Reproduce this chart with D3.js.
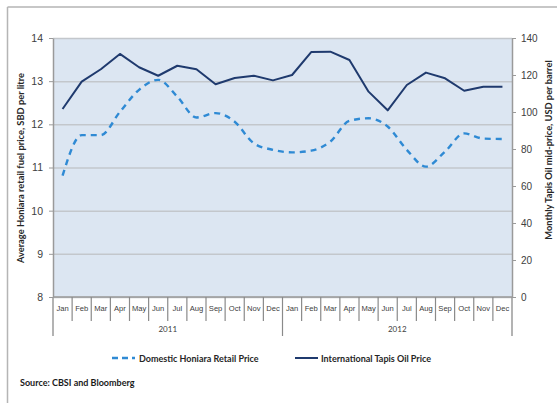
<!DOCTYPE html>
<html>
<head>
<meta charset="utf-8">
<script src="https://cdn.jsdelivr.net/npm/d3@7"></script>
<style>
  html, body { margin: 0; padding: 0; background: #fff; }
  svg { display: block; font-family: Lato, "Open Sans", sans-serif; }
</style>
</head>
<body>
<svg id="chart" width="557" height="403"></svg>
<script>
// Monthly series, Jan 2011 – Dec 2012
const months = ["Jan","Feb","Mar","Apr","May","Jun","Jul","Aug","Sep","Oct","Nov","Dec"];
const years = ["2011", "2012"];
// Average Honiara retail fuel price, SBD per litre (left axis)
const domesticPrice = [10.81, 11.75, 11.75, 12.29, 12.80, 13.03, 12.64, 12.16, 12.26, 12.06, 11.56, 11.41,
                       11.35, 11.39, 11.60, 12.08, 12.14, 11.95, 11.41, 11.02, 11.37, 11.79, 11.67, 11.66];
// International Tapis oil mid-price, USD per barrel (right axis)
const tapisPrice = [101.6, 116.4, 123.1, 131.4, 124.2, 119.6, 125.0, 123.1, 115.0, 118.4, 119.6, 117.1,
                    120.0, 132.4, 132.6, 128.1, 111.0, 100.9, 114.6, 121.3, 118.2, 111.5, 113.7, 113.7];
const leftTicks = [8, 9, 10, 11, 12, 13, 14];
const rightTicks = [0, 20, 40, 60, 80, 100, 120, 140];
const seriesNames = ["Domestic Honiara Retail Price", "International Tapis Oil Price"];
const leftTitle = "Average Honiara retail fuel price, SBD per litre";
const rightTitle = "Monthly Tapis Oil mid-price, USD per barrel";
const sourceNote = "Source: CBSI and Bloomberg";

const svg = d3.select("#chart");
const plot = { left: 53, right: 512, top: 38, bottom: 297 };
const gridColor = "#c3c7cc";
const axisColor = "#9a9a9a";
const textColor = "#404040";

const periods = d3.range(years.length * months.length);
const x = d3.scaleBand().domain(periods).range([plot.left, plot.right]);
const xc = i => x(i) + x.bandwidth() / 2;
const yL = d3.scaleLinear().domain([8, 14]).range([plot.bottom, plot.top]);
const yR = d3.scaleLinear().domain([0, 140]).range([plot.bottom, plot.top]);
const intFmt = d3.format("d");

// outer frame (top and left edges)
svg.append("line").attr("x1", 7.5).attr("x2", 557).attr("y1", 7).attr("y2", 7)
  .attr("stroke", "#b5b5b5").attr("stroke-width", 1.5);
svg.append("line").attr("x1", 7.5).attr("x2", 7.5).attr("y1", 7).attr("y2", 403)
  .attr("stroke", "#b5b5b5").attr("stroke-width", 1.5);

// plot background
svg.append("rect")
  .attr("x", plot.left).attr("y", plot.top)
  .attr("width", plot.right - plot.left).attr("height", plot.bottom - plot.top)
  .attr("fill", "#dce6f2");

// horizontal gridlines
svg.append("g")
  .attr("transform", `translate(${plot.left},0)`)
  .call(d3.axisLeft(yL).tickValues(leftTicks).tickSize(-(plot.right - plot.left)).tickFormat(""))
  .call(g => g.select(".domain").remove())
  .call(g => g.selectAll("line").attr("stroke", gridColor).attr("stroke-width", 1.5));

// left axis
const gl = svg.append("g")
  .attr("transform", `translate(${plot.left},0)`)
  .call(d3.axisLeft(yL).tickValues(leftTicks).tickFormat(intFmt).tickSize(4).tickPadding(6).tickSizeOuter(0));
gl.select(".domain").attr("stroke", axisColor).attr("stroke-width", 1.5);
gl.selectAll(".tick line").attr("stroke", axisColor);
gl.selectAll("text").attr("fill", textColor).attr("font-size", 10.5);

// right axis
const gr = svg.append("g")
  .attr("transform", `translate(${plot.right},0)`)
  .call(d3.axisRight(yR).tickValues(rightTicks).tickFormat(intFmt).tickSize(4).tickPadding(5).tickSizeOuter(0));
gr.select(".domain").attr("stroke", axisColor).attr("stroke-width", 1.5);
gr.selectAll(".tick line").attr("stroke", axisColor);
gr.selectAll("text").attr("fill", textColor).attr("font-size", 10);

// extend both value axes down through the category area
[plot.left, plot.right].forEach(px => {
  svg.append("line").attr("x1", px).attr("x2", px).attr("y1", plot.bottom).attr("y2", 336)
    .attr("stroke", axisColor).attr("stroke-width", 1.5);
});

// category axis: month labels with separators, year labels below
svg.append("line").attr("x1", plot.left).attr("x2", plot.right)
  .attr("y1", plot.bottom).attr("y2", plot.bottom)
  .attr("stroke", axisColor).attr("stroke-width", 1.5);
const gx = svg.append("g")
  .attr("transform", `translate(0,${plot.bottom})`)
  .call(d3.axisBottom(x).tickSize(0).tickPadding(9).tickFormat(i => months[i % months.length]));
gx.select(".domain").remove();
gx.selectAll("text").attr("fill", textColor).attr("font-size", 7.6);

periods.slice(1).forEach(i => {
  const isYear = i % months.length === 0;
  svg.append("line")
    .attr("x1", x(i)).attr("x2", x(i))
    .attr("y1", plot.bottom).attr("y2", isYear ? 336 : 321)
    .attr("stroke", "#8a8a8a").attr("stroke-width", 1.2);
});
years.forEach((yr, k) => {
  const a = x(k * months.length), b = x((k + 1) * months.length - 1) + x.bandwidth();
  svg.append("text").attr("x", (a + b) / 2).attr("y", 332)
    .attr("text-anchor", "middle").attr("fill", textColor).attr("font-size", 8)
    .text(yr);
});

// axis titles
svg.append("text")
  .attr("transform", `translate(24,168) rotate(-90)`)
  .attr("text-anchor", "middle").attr("font-size", 9.3).attr("font-weight", "bold")
  .attr("fill", "#262626").text(leftTitle);
svg.append("text")
  .attr("transform", `translate(552,150) rotate(-90)`)
  .attr("text-anchor", "middle").attr("font-size", 9.3).attr("font-weight", "bold")
  .attr("fill", "#262626").text(rightTitle);

// series lines
const domesticColor = "#2f8ad4";
const tapisColor = "#1f3a6e";
const lineL = d3.line().x((d, i) => xc(i)).y(d => yL(d)).curve(d3.curveMonotoneX);
const lineR = d3.line().x((d, i) => xc(i)).y(d => yR(d));

svg.append("path").datum(domesticPrice)
  .attr("d", lineL).attr("fill", "none")
  .attr("stroke", domesticColor).attr("stroke-width", 2.4)
  .attr("stroke-dasharray", "6,5");
svg.append("path").datum(tapisPrice)
  .attr("d", lineR).attr("fill", "none")
  .attr("stroke", tapisColor).attr("stroke-width", 2)
  .attr("stroke-linejoin", "round");

// legend
const legendY = 358;
const legend = [
  { name: seriesNames[0], color: domesticColor, dash: "6,4", w: 2.4, x: 112 },
  { name: seriesNames[1], color: tapisColor, dash: null, w: 2, x: 295 }
];
legend.forEach(l => {
  svg.append("line").attr("x1", l.x).attr("x2", l.x + 23)
    .attr("y1", legendY).attr("y2", legendY)
    .attr("stroke", l.color).attr("stroke-width", l.w)
    .attr("stroke-dasharray", l.dash);
  svg.append("text").attr("x", l.x + 27 + (l.dash ? 0 : -1)).attr("y", legendY + 3.5)
    .attr("font-size", 9).attr("font-weight", "bold").attr("fill", "#262626")
    .text(l.name);
});

// source note
svg.append("text").attr("x", 20).attr("y", 386)
  .attr("font-size", 9).attr("font-weight", "bold").attr("fill", "#1a1a1a")
  .text(sourceNote);
</script>
</body>
</html>
